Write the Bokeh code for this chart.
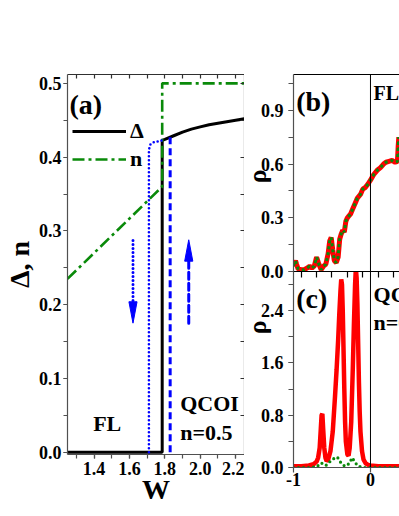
import numpy as np
from bokeh.plotting import figure
from bokeh.layouts import row, column
from bokeh.models import (Range1d, LinearAxis, SingleIntervalTicker, FixedTicker,
                          PrintfTickFormatter, Legend, LegendItem, Label, Span)
from bokeh.embed import file_html
from bokeh.resources import INLINE

FONT = "Liberation Serif"
GREEN = "#0a8a0a"
BLUE = "#0000ff"
RED = "#ff0000"
AXIS_COLOR = "#505050"
NBSP = "\u00a0"

# ---------------- panel (a) data ----------------
W_delta = [1.25, 1.785, 1.785, 1.80, 1.85, 1.90, 1.95, 2.00, 2.05, 2.10, 2.15, 2.20, 2.25]
delta = [0.0, 0.0, 0.4226, 0.424, 0.429, 0.434, 0.438, 0.441, 0.444, 0.446, 0.448, 0.450, 0.452]
W_n = [1.25, 1.785, 1.785, 2.25]
n_val = [0.235, 0.36, 0.50, 0.50]
W_down = [1.71, 1.71, 1.718, 1.735, 1.785]
delta_down = [0.0, 0.410, 0.417, 0.420, 0.4226]
W_up = [1.83, 1.83]
delta_up = [0.0, 0.428]
arrow_W = [1.62, 1.935]
arrow_from = [0.287, 0.175]
arrow_to = [0.175, 0.288]

# ---------------- panel (b) data ----------------
E_b = [-1.0, -0.985, -0.974, -0.96, -0.94, -0.90, -0.86, -0.82, -0.79, -0.76, -0.73,
       -0.70, -0.67, -0.64, -0.61, -0.58, -0.55, -0.53, -0.51, -0.49, -0.47, -0.445,
       -0.42, -0.40, -0.38, -0.36, -0.34, -0.32, -0.30, -0.28, -0.26, -0.23, -0.20,
       -0.17, -0.13, -0.10, -0.065, -0.03, 0.0, 0.04, 0.087, 0.13, 0.17, 0.20, 0.24,
       0.28, 0.32, 0.35, 0.36, 0.368, 0.375, 0.39]
rho_b_red = [0.03, 0.05, 0.06, 0.04, 0.015, 0.01, 0.01, 0.02, 0.03, 0.02, 0.03,
             0.08, 0.04, 0.01, 0.03, 0.04, 0.10, 0.17, 0.19, 0.12, 0.06, 0.05,
             0.08, 0.18, 0.21, 0.23, 0.22, 0.28, 0.30, 0.31, 0.32, 0.35, 0.38,
             0.41, 0.43, 0.46, 0.47, 0.49, 0.51, 0.54, 0.565, 0.58, 0.60, 0.61, 0.615,
             0.62, 0.61, 0.615, 0.70, 0.75, 0.65, 0.62]
rho_b_green = rho_b_red

# ---------------- panel (c) data ----------------
E_c = [-1.0, -0.9, -0.8, -0.74, -0.70, -0.68, -0.66, -0.645, -0.635, -0.625, -0.615,
       -0.60, -0.585, -0.57, -0.55, -0.52, -0.49, -0.46, -0.44, -0.42, -0.405, -0.39,
       -0.38, -0.37, -0.36, -0.35, -0.34, -0.33, -0.32, -0.30, -0.285, -0.27, -0.25,
       -0.23, -0.215, -0.20, -0.19, -0.18, -0.17, -0.16, -0.15, -0.14, -0.13, -0.11,
       -0.09, -0.06, -0.03, 0.0, 0.1, 0.2, 0.3, 0.4]
rho_c_red = [0.02, 0.02, 0.03, 0.05, 0.09, 0.15, 0.30, 0.60, 0.80, 0.82, 0.60,
             0.30, 0.15, 0.10, 0.12, 0.25, 0.55, 1.10, 1.50, 1.95, 2.35, 2.70,
             2.88, 2.80, 2.40, 1.80, 1.20, 0.70, 0.40, 0.20, 0.18, 0.30, 0.70,
             1.50, 2.20, 2.80, 3.05, 2.90, 2.50, 1.90, 1.30, 0.85, 0.55, 0.25,
             0.12, 0.06, 0.04, 0.03, 0.02, 0.02, 0.02, 0.02]
E_c_green = [-1.0, -0.8, -0.7, -0.67, -0.64, -0.61, -0.58, -0.55, -0.51, -0.47, -0.43,
             -0.40, -0.37, -0.33, -0.30, -0.27, -0.24, -0.21, -0.195, -0.16, -0.12,
             -0.08, 0.0, 0.2, 0.4]
rho_c_green = [0.0, 0.0, 0.01, 0.04, 0.07, 0.05, 0.03, 0.06, 0.11, 0.14, 0.16,
               0.10, 0.05, 0.02, 0.04, 0.07, 0.15, 0.10, 0.07, 0.02, 0.01,
               0.0, 0.0, 0.0, 0.0]

# tick settings (labels are produced by formatters)
a_x_major, a_y_major = 0.2, 0.1
b_y_major, c_y_major = 0.3, 0.8
c_x_ticks = [-1, 0, 1]
TICK_FONT = "18px"


def style_main_axis(ax, tick_out=4, standoff=2):
    ax.axis_line_color = AXIS_COLOR
    ax.axis_line_width = 1.2
    ax.major_tick_line_color = AXIS_COLOR
    ax.minor_tick_line_color = AXIS_COLOR
    ax.major_tick_line_width = 1.2
    ax.minor_tick_line_width = 1.2
    ax.major_tick_in = 0
    ax.major_tick_out = tick_out
    ax.minor_tick_in = 0
    ax.minor_tick_out = tick_out
    ax.major_label_text_font = FONT
    ax.major_label_text_font_style = "bold"
    ax.major_label_text_font_size = TICK_FONT
    ax.major_label_text_color = "black"
    ax.major_label_standoff = standoff


def style_axis_label(ax, text, size, standoff):
    ax.axis_label = text
    ax.axis_label_text_font = FONT
    ax.axis_label_text_font_style = "bold"
    ax.axis_label_text_font_size = size
    ax.axis_label_text_color = "black"
    ax.axis_label_standoff = standoff


def frame_axis(minor, color, tick_in):
    ax = LinearAxis(ticker=FixedTicker(ticks=[], minor_ticks=minor))
    ax.axis_line_color = color
    ax.axis_line_width = 1.2
    ax.major_tick_in = 0
    ax.major_tick_out = 0
    ax.minor_tick_in = tick_in
    ax.minor_tick_out = 0
    ax.minor_tick_line_color = color
    ax.minor_tick_line_width = 1.2
    ax.major_label_standoff = 0
    return ax


def bold_label(p, x, y, text, size="22px", **kw):
    p.add_layout(Label(x=x, y=y, text=text, text_font=FONT, text_font_style="bold",
                       text_font_size=size, text_color="black",
                       text_baseline="alphabetic", **kw))


def base_fig(**kw):
    p = figure(output_backend="svg", toolbar_location=None, outline_line_color=None, **kw)
    p.xgrid.visible = False
    p.ygrid.visible = False
    return p


# ================= panel (a) =================
pa = base_fig(width=244, height=516, x_range=Range1d(1.25, 2.25), y_range=Range1d(-0.003, 0.512),
              min_border_left=61, min_border_right=0, min_border_top=74, min_border_bottom=62)
xa = pa.below[0]
ya = pa.left[0]
xa.ticker = SingleIntervalTicker(interval=a_x_major, num_minor_ticks=2)
ya.ticker = SingleIntervalTicker(interval=a_y_major, num_minor_ticks=2)
xa.formatter = PrintfTickFormatter(format="%.1f")
ya.formatter = PrintfTickFormatter(format="%.1f")
style_main_axis(xa, standoff=3)
style_main_axis(ya)
style_axis_label(xa, "W", "28px", -4)
style_axis_label(ya, "Δ, n", "28px", 1)
pa.add_layout(frame_axis([round(v, 2) for v in np.arange(1.3, 2.25, 0.1)], "#303030", 4), "above")
pa.add_layout(frame_axis([round(v, 3) for v in np.arange(0.05, 0.51, 0.05)], "#303030", 4), "right")

r_delta = pa.line(W_delta, delta, line_color="black", line_width=3)
r_n = pa.line(W_n, n_val, line_color=GREEN, line_width=2.6, line_dash="12 4 3 4")
pa.line(W_down, delta_down, line_color=BLUE, line_width=2.6, line_dash="0 4", line_cap="round")
pa.line(W_up, delta_up, line_color=BLUE, line_width=3, line_dash="7 4")

HEAD_LEN = 0.029
HEAD_HALF = 0.023
for w, y0, y1, dash in zip(arrow_W, arrow_from, arrow_to, ["0 4", "7 4"]):
    d = np.sign(y1 - y0)
    base = y1 - d * HEAD_LEN
    pa.line([w, w], [y0, base], line_color=BLUE, line_width=3, line_dash=dash, line_cap="round")
    pa.patch([w - HEAD_HALF, w + HEAD_HALF, w], [base, base, y1], fill_color=BLUE,
             line_color=BLUE, line_width=1)

legend = Legend(items=[LegendItem(label="Δ", renderers=[r_delta]),
                       LegendItem(label="n", renderers=[r_n])],
                location=(5, 281), glyph_width=54, glyph_height=28, label_height=28,
                label_standoff=4, spacing=0, padding=0, margin=0, border_line_color=None,
                background_fill_alpha=0, label_text_font=FONT, label_text_font_style="bold",
                label_text_font_size="22px", label_text_color="black")
pa.add_layout(legend)

bold_label(pa, 1.261, 0.4715, "(a)", size="28px")
bold_label(pa, 1.395, 0.039, "FL")
bold_label(pa, 1.887, 0.066, "QCOI")
bold_label(pa, 1.887, 0.027, "n=0.5")

# ================= panels (b), (c) =================
E_range = Range1d(-1.0, 0.377)

pb = base_fig(width=167, height=281, x_range=E_range, y_range=Range1d(0, 1.1),
              x_axis_location=None, border_fill_alpha=0,
              min_border_left=61, min_border_right=0, min_border_top=74, min_border_bottom=10)
pb.margin = (0, 0, -10, 0)
yb = pb.left[0]
yb.ticker = SingleIntervalTicker(interval=b_y_major, num_minor_ticks=2)
yb.formatter = PrintfTickFormatter(format="%.1f")
style_main_axis(yb, tick_out=5, standoff=5)
style_axis_label(yb, "ρ" + NBSP, "26px", -14)
pb.add_layout(frame_axis([], "black", 0), "above")
pb.add_layout(Span(location=0, dimension="height", line_color="black", line_width=1))
pb.line(E_b, rho_b_red, line_color=RED, line_width=5)
pb.line(E_b, rho_b_green, line_color=GREEN, line_width=3, line_dash="3 3")
bold_label(pb, -0.965, 0.95, "(b)", size="28px")
bold_label(pb, 0.04, 0.995, "FL", size="20px")

pc = base_fig(width=167, height=245, x_range=E_range, y_range=Range1d(0, 3.0),
              min_border_left=61, min_border_right=0, min_border_top=0, min_border_bottom=49,
              border_fill_alpha=0, background_fill_alpha=0)
yc = pc.left[0]
xc = pc.below[0]
yc.ticker = SingleIntervalTicker(interval=c_y_major, num_minor_ticks=2)
yc.formatter = PrintfTickFormatter(format="%.1f")
xc.ticker = FixedTicker(ticks=c_x_ticks)
xc.formatter = PrintfTickFormatter(format="%d")
style_main_axis(yc, tick_out=5, standoff=5)
style_main_axis(xc, tick_out=5, standoff=0)
style_axis_label(yc, NBSP * 13 + "ρ", "26px", -14)
pc.add_layout(frame_axis([-0.9, -0.7, -0.5, -0.3, -0.1, 0.1, 0.3], "black", 6), "above")
pc.add_layout(Span(location=0, dimension="height", line_color="black", line_width=1))
pc.line(E_c, rho_c_red, line_color=RED, line_width=4.5)
pc.line(E_c_green, rho_c_green, line_color=GREEN, line_width=3.2, line_dash="0 5",
        line_cap="round")
bold_label(pc, -0.965, 2.584, "(c)", size="28px")
bold_label(pc, 0.04, 2.645, "QCOI")
bold_label(pc, 0.04, 2.215, "n=0.5")

right_col = column(pb, pc)
right_col.margin = (0, 0, 0, -12)
layout = row(pa, right_col)
open("out.html", "w").write(file_html(layout, INLINE))
